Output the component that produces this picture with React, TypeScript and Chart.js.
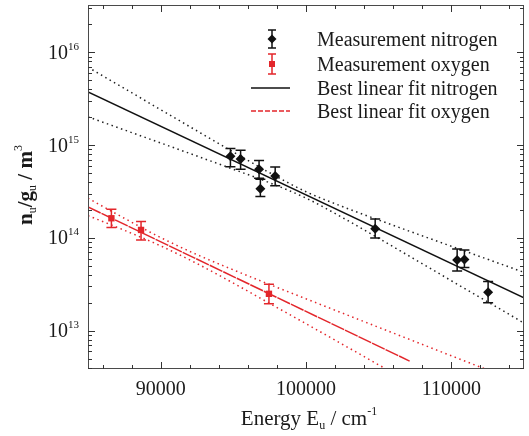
import React, { useEffect, useRef } from 'react';
import { Chart, registerables } from 'chart.js';

Chart.register(...registerables);

const W = 529;
const H = 436;

// Measured level populations (nitrogen)
const nitrogenEnergy = [94800, 95500, 96770, 96860, 97880, 104760, 110400, 110900, 112530];
const nitrogenDensity = [7.6e14, 7.1e14, 5.5e14, 3.4e14, 4.65e14, 1.26e14, 5.8e13, 5.85e13, 2.6e13];
const nitrogenErrHigh = [9.2e14, 8.8e14, 6.85e14, 4.3e14, 5.8e14, 1.6e14, 7.6e13, 7.4e13, 3.4e13];
const nitrogenErrLow = [5.85e14, 5.5e14, 4.4e14, 2.8e14, 3.65e14, 1.0e14, 4.4e13, 4.8e13, 2.0e13];

// Measured level populations (oxygen)
const oxygenEnergy = [86610, 88650, 97450];
const oxygenDensity = [1.63e14, 1.22e14, 2.5e13];
const oxygenErrHigh = [2.04e14, 1.5e14, 3.17e13];
const oxygenErrLow = [1.3e14, 9.5e13, 1.96e13];

// Best linear fits (straight lines on the log axis)
const fitEnergyN = [85000, 115000];
const fitDensityN = [3.74e15, 2.27e13];
const fitEnergyO = [85000, 107130];
const fitDensityO = [2.16e14, 4.71e12];

// Confidence bands of the fits
const bandEnergy = [85000, 87500, 90000, 92500, 95000, 97500, 100000, 102500, 105000, 107500, 110000, 112500, 115000];
const nitrogenBandHigh = [6.92e15, 4.09e15, 2.41e15, 1.425e15, 8.44e14, 5.04e14, 3.15e14, 2.18e14, 1.56e14, 1.125e14, 8.14e13, 5.89e13, 4.26e13];
const nitrogenBandLow = [2.02e15, 1.459e15, 1.056e15, 7.63e14, 5.5e14, 3.93e14, 2.69e14, 1.66e14, 9.9e13, 5.87e13, 3.46e13, 2.05e13, 1.21e13];
const oxygenBandHigh = [2.68e14, 1.63e14, 1.01e14, 6.61e13, 4.53e13, 3.15e13, 2.21e13, 1.55e13, 1.088e13, 7.65e12, 5.37e12, 3.78e12, 2.66e12];
const oxygenBandLow = [1.74e14, 1.21e14, 8.21e13, 5.29e13, 3.26e13, 1.97e13, 1.19e13, 7.15e12, 4.29e12, 2.57e12];

// Axes
const xMin = 85000;
const xMax = 115000;
const yMin = 3.87e12;
const yMax = 3.24e16;
const xMajorTicks = [90000, 100000, 110000];
const xMinorStep = 2000;
const yDecades = [13, 14, 15, 16];

const legendLabels = [
  'Measurement nitrogen',
  'Measurement oxygen',
  'Best linear fit nitrogen',
  'Best linear fit oxygen',
];

const BLACK = '#111111';
const RED = '#e3262b';
const FRAME = '#4a4a4a';
const SERIF = '"Liberation Serif", "Times New Roman", serif';

const pts = (xs: number[], ys: number[]) => ys.map((y, i) => ({ x: xs[i], y }));

type Part = { t: string; size: number; dy?: number; bold?: boolean };

function richWidth(ctx: CanvasRenderingContext2D, parts: Part[]) {
  let w = 0;
  for (const p of parts) {
    ctx.font = `${p.bold ? 'bold ' : ''}${p.size}px ${SERIF}`;
    w += ctx.measureText(p.t).width;
  }
  return w;
}

function drawRich(ctx: CanvasRenderingContext2D, parts: Part[], x: number, y: number, align: 'left' | 'center' | 'right') {
  const w = richWidth(ctx, parts);
  let cx = align === 'left' ? x : align === 'center' ? x - w / 2 : x - w;
  ctx.textAlign = 'left';
  ctx.textBaseline = 'alphabetic';
  for (const p of parts) {
    ctx.font = `${p.bold ? 'bold ' : ''}${p.size}px ${SERIF}`;
    ctx.fillText(p.t, cx, y + (p.dy || 0));
    cx += ctx.measureText(p.t).width;
  }
}

function errorBar(ctx: CanvasRenderingContext2D, x: number, top: number, bottom: number, half: number, color: string) {
  ctx.strokeStyle = color;
  ctx.lineWidth = 1.5;
  ctx.beginPath();
  ctx.moveTo(x, top);
  ctx.lineTo(x, bottom);
  ctx.moveTo(x - half, top);
  ctx.lineTo(x + half, top);
  ctx.moveTo(x - half, bottom);
  ctx.lineTo(x + half, bottom);
  ctx.stroke();
}

const decorations = {
  id: 'decorations',
  afterDatasetsDraw(chart: any) {
    const ctx: CanvasRenderingContext2D = chart.ctx;
    const xs = chart.scales.x;
    const ys = chart.scales.y;
    ctx.save();
    nitrogenEnergy.forEach((e, i) => {
      const px = xs.getPixelForValue(e);
      errorBar(ctx, px, ys.getPixelForValue(nitrogenErrHigh[i]), ys.getPixelForValue(nitrogenErrLow[i]), 5, BLACK);
    });
    oxygenEnergy.forEach((e, i) => {
      const px = xs.getPixelForValue(e);
      errorBar(ctx, px, ys.getPixelForValue(oxygenErrHigh[i]), ys.getPixelForValue(oxygenErrLow[i]), 5, RED);
    });
    ctx.restore();
  },
  afterDraw(chart: any) {
    const ctx: CanvasRenderingContext2D = chart.ctx;
    const { left, right, top, bottom } = chart.chartArea;
    const xs = chart.scales.x;
    const ys = chart.scales.y;
    ctx.save();

    // frame
    ctx.strokeStyle = FRAME;
    ctx.lineWidth = 1;
    ctx.strokeRect(left + 0.5, top + 0.5, right - left - 1, bottom - top - 1);

    // inward ticks on all four sides
    ctx.strokeStyle = '#333';
    ctx.beginPath();
    for (let v = xMin + xMinorStep / 2; v < xMax; v += xMinorStep) {
      const px = Math.round(xs.getPixelForValue(v)) + 0.5;
      const len = xMajorTicks.includes(v) ? 7 : 4;
      ctx.moveTo(px, bottom);
      ctx.lineTo(px, bottom - len);
      ctx.moveTo(px, top);
      ctx.lineTo(px, top + len);
    }
    for (let e = 12; e <= 16; e++) {
      for (let m = 1; m <= 9; m++) {
        const v = m * Math.pow(10, e);
        if (v < yMin || v > yMax) continue;
        const py = Math.round(ys.getPixelForValue(v)) + 0.5;
        const len = m === 1 ? 7 : 4;
        ctx.moveTo(left, py);
        ctx.lineTo(left + len, py);
        ctx.moveTo(right, py);
        ctx.lineTo(right - len, py);
      }
    }
    ctx.stroke();

    // tick labels
    ctx.fillStyle = '#1a1a1a';
    for (const v of xMajorTicks) {
      drawRich(ctx, [{ t: String(v), size: 20 }], xs.getPixelForValue(v), 395, 'center');
    }
    for (const e of yDecades) {
      const py = ys.getPixelForValue(Math.pow(10, e));
      drawRich(ctx, [{ t: '10', size: 20 }, { t: String(e), size: 11, dy: -9 }], 79, py + 6.5, 'right');
    }

    // axis titles
    drawRich(
      ctx,
      [
        { t: 'Energy E', size: 21 },
        { t: 'u', size: 12, dy: 4 },
        { t: ' / cm', size: 21 },
        { t: '-1', size: 12, dy: -10 },
      ],
      309,
      425,
      'center'
    );
    ctx.save();
    ctx.translate(32, 185);
    ctx.rotate(-Math.PI / 2);
    drawRich(
      ctx,
      [
        { t: 'n', size: 21, bold: true },
        { t: 'u', size: 12, dy: 4 },
        { t: '/g', size: 21, bold: true },
        { t: 'u', size: 12, dy: 4 },
        { t: ' / m', size: 21, bold: true },
        { t: '3', size: 12, dy: -10 },
      ],
      0,
      0,
      'center'
    );
    ctx.restore();

    // legend
    const mx = 272;
    const rowY = [39, 64, 88, 111];
    errorBar(ctx, mx, rowY[0] - 9, rowY[0] + 9, 4, BLACK);
    ctx.fillStyle = BLACK;
    ctx.beginPath();
    ctx.moveTo(mx, rowY[0] - 4.5);
    ctx.lineTo(mx + 4.5, rowY[0]);
    ctx.lineTo(mx, rowY[0] + 4.5);
    ctx.lineTo(mx - 4.5, rowY[0]);
    ctx.closePath();
    ctx.fill();
    errorBar(ctx, mx, rowY[1] - 10, rowY[1] + 10, 4, RED);
    ctx.fillStyle = RED;
    ctx.fillRect(mx - 3, rowY[1] - 3, 6, 6);
    ctx.lineWidth = 1.5;
    ctx.strokeStyle = BLACK;
    ctx.beginPath();
    ctx.moveTo(251, rowY[2]);
    ctx.lineTo(290, rowY[2]);
    ctx.stroke();
    ctx.strokeStyle = RED;
    ctx.setLineDash([5, 2]);
    ctx.beginPath();
    ctx.moveTo(251, rowY[3]);
    ctx.lineTo(290, rowY[3]);
    ctx.stroke();
    ctx.setLineDash([]);
    ctx.fillStyle = '#1a1a1a';
    legendLabels.forEach((label, i) => {
      drawRich(ctx, [{ t: label, size: 20 }], 317, rowY[i] + 7, 'left');
    });

    ctx.restore();
  },
};

export default function App() {
  const ref = useRef<HTMLCanvasElement>(null);

  useEffect(() => {
    const canvas = ref.current;
    if (!canvas) return;
    const dotted = { borderDash: [1.5, 3.5], borderWidth: 1.5, pointRadius: 0, showLine: true, cubicInterpolationMode: 'monotone' as const };
    const chart = new Chart(canvas, {
      type: 'scatter',
      data: {
        datasets: [
          {
            label: legendLabels[0],
            data: pts(nitrogenEnergy, nitrogenDensity),
            pointStyle: 'rectRot',
            pointRadius: 5,
            backgroundColor: BLACK,
            borderColor: BLACK,
            borderWidth: 0,
          },
          {
            label: legendLabels[1],
            data: pts(oxygenEnergy, oxygenDensity),
            pointStyle: 'rect',
            pointRadius: 4.5,
            backgroundColor: RED,
            borderColor: RED,
            borderWidth: 0,
          },
          {
            label: legendLabels[2],
            data: pts(fitEnergyN, fitDensityN),
            showLine: true,
            pointRadius: 0,
            borderColor: BLACK,
            borderWidth: 1.5,
          },
          {
            label: legendLabels[3],
            data: pts(fitEnergyO, fitDensityO),
            showLine: true,
            pointRadius: 0,
            borderColor: RED,
            borderWidth: 1.5,
            borderDash: [14, 1],
          },
          { label: 'N band high', data: pts(bandEnergy, nitrogenBandHigh), borderColor: '#222', ...dotted },
          { label: 'N band low', data: pts(bandEnergy, nitrogenBandLow), borderColor: '#222', ...dotted },
          { label: 'O band high', data: pts(bandEnergy, oxygenBandHigh), borderColor: RED, ...dotted },
          { label: 'O band low', data: pts(bandEnergy, oxygenBandLow), borderColor: RED, ...dotted },
        ],
      },
      options: {
        responsive: false,
        animation: false,
        devicePixelRatio: 1,
        layout: { padding: { top: 3, right: 0, left: 0, bottom: 0 } },
        plugins: { legend: { display: false }, tooltip: { enabled: false } },
        scales: {
          x: {
            type: 'linear',
            min: xMin,
            max: xMax,
            grid: { display: false },
            border: { display: false },
            ticks: { display: false },
            afterFit: (s: any) => {
              s.height = 67;
            },
          },
          y: {
            type: 'logarithmic',
            min: yMin,
            max: yMax,
            grid: { display: false },
            border: { display: false },
            ticks: { display: false },
            afterFit: (s: any) => {
              s.width = 88;
            },
          },
        },
      },
      plugins: [decorations],
    });
    return () => chart.destroy();
  }, []);

  return (
    <div style={{ position: 'absolute', left: 0, top: 0, width: W, height: H, background: '#fff' }}>
      <canvas ref={ref} width={W} height={H} style={{ width: W, height: H, display: 'block' }} />
    </div>
  );
}
